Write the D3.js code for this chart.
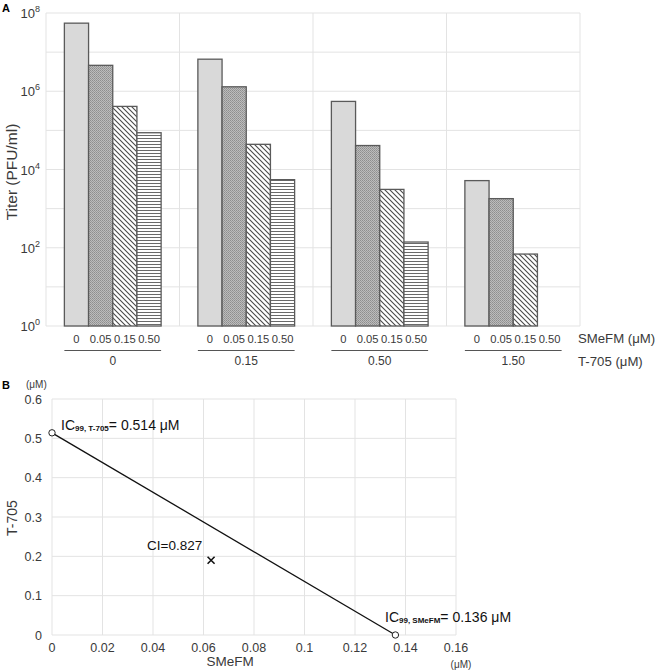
<!DOCTYPE html>
<html><head><meta charset="utf-8">
<script src="https://cdn.jsdelivr.net/npm/d3@7"></script>
<style>body{margin:0;background:#fff}svg{font-family:"Liberation Sans",Arial,sans-serif}</style>
</head><body><svg id="c" width="660" height="672"></svg>
<script>
// ---- Data ----
const t705Groups = ["0", "0.15", "0.50", "1.50"];
const smefmLevels = ["0", "0.05", "0.15", "0.50"];
const titerT0    = [5.5e7, 4.6e6, 4.1e5, 8.7e4];
const titerT015  = [6.6e6, 1.3e6, 4.4e4, 5.5e3];
const titerT050  = [5.5e5, 4.1e4, 3.1e3, 1.4e2];
const titerT150  = [5.2e3, 1.8e3, 69, null];
const yExponents = [0, 2, 4, 6, 8];
const icT705 = 0.514, icSMeFM = 0.136;
const ciPoint = {x: 0.063, y: 0.19, ci: 0.827};
const bXTicks = [0, 0.02, 0.04, 0.06, 0.08, 0.1, 0.12, 0.14, 0.16];
const bYTicks = [0, 0.1, 0.2, 0.3, 0.4, 0.5, 0.6];

const titers = [titerT0, titerT015, titerT050, titerT150];
const svg = d3.select("#c");
const grid = "#e3e3e3", txt = "#3a3a3a";

// patterns
const defs = svg.append("defs");
const pd = defs.append("pattern").attr("id","dots").attr("patternUnits","userSpaceOnUse").attr("width",2).attr("height",2);
pd.append("rect").attr("width",2).attr("height",2).attr("fill","#bcbcbc");
pd.append("rect").attr("width",1).attr("height",1).attr("fill","#8e8e8e");
pd.append("rect").attr("x",1).attr("y",1).attr("width",1).attr("height",1).attr("fill","#9a9a9a");
const pg = defs.append("pattern").attr("id","diag").attr("patternUnits","userSpaceOnUse").attr("width",5).attr("height",5);
pg.append("rect").attr("width",5).attr("height",5).attr("fill","#fff");
pg.append("path").attr("d","M0,0L5,5M-1,4L1,6M4,-1L6,1").attr("stroke","#4a4a4a").attr("stroke-width",1.1);
const ph = defs.append("pattern").attr("id","horiz").attr("patternUnits","userSpaceOnUse").attr("width",4).attr("height",3);
ph.append("rect").attr("width",4).attr("height",3).attr("fill","#fff");
ph.append("rect").attr("y",0).attr("width",4).attr("height",1).attr("fill","#6a6a6a");
const fills = ["#d9d9d9", "url(#dots)", "url(#diag)", "url(#horiz)"];

// ---- Panel A ----
const y = d3.scaleLog().domain([1, 1e8]).range([326, 13]);
const xg = d3.scaleBand().domain(t705Groups).range([46, 580]);
const xb = d3.scaleBand().domain(smefmLevels).range([0, xg.bandwidth()]).paddingOuter(0.76);

const gA = svg.append("g");
d3.range(0, 9).forEach(e => {
  gA.append("line").attr("x1", 46).attr("x2", 580).attr("y1", y(Math.pow(10, e))).attr("y2", y(Math.pow(10, e)))
    .attr("stroke", grid).attr("stroke-width", 1);
});
t705Groups.forEach(g => {
  gA.append("line").attr("x1", xg(g)).attr("x2", xg(g)).attr("y1", 13).attr("y2", 326).attr("stroke", grid);
});
gA.append("line").attr("x1", 580).attr("x2", 580).attr("y1", 13).attr("y2", 326).attr("stroke", grid);

yExponents.forEach(e => {
  const t = gA.append("text").attr("x", 40).attr("y", y(Math.pow(10, e)) + 5).attr("text-anchor", "end")
    .attr("font-size", 13).attr("fill", txt);
  t.append("tspan").text("10");
  t.append("tspan").attr("dy", -6).attr("font-size", 9).text(e);
});

t705Groups.forEach((g, gi) => {
  smefmLevels.forEach((s, si) => {
    const v = titers[gi][si];
    if (v == null) return;
    gA.append("rect").attr("x", xg(g) + xb(s)).attr("y", y(v))
      .attr("width", xb.bandwidth()).attr("height", y(1) - y(v))
      .attr("fill", fills[si]).attr("stroke", "#5a5a5a").attr("stroke-width", 1.3);
  });
  smefmLevels.forEach(s => {
    gA.append("text").attr("x", xg(g) + xb(s) + xb.bandwidth() / 2).attr("y", 342.5)
      .attr("text-anchor", "middle").attr("font-size", 11.2).attr("fill", txt).text(s);
  });
  const x0 = xg(g) + xb(smefmLevels[0]), x1 = xg(g) + xb(smefmLevels[3]) + xb.bandwidth();
  gA.append("line").attr("x1", x0).attr("x2", x1).attr("y1", 350.5).attr("y2", 350.5).attr("stroke", "#555");
  gA.append("text").attr("x", (x0 + x1) / 2).attr("y", 365).attr("text-anchor", "middle")
    .attr("font-size", 12).attr("fill", txt).text(g);
});
gA.append("text").attr("x", 578).attr("y", 343).attr("font-size", 13.2).attr("fill", txt).text("SMeFM (μM)");
gA.append("text").attr("x", 578).attr("y", 366).attr("font-size", 13.2).attr("fill", txt).text("T-705 (μM)");
gA.append("text").attr("transform", "translate(17,172) rotate(-90)").attr("text-anchor", "middle")
  .attr("font-size", 15.5).attr("fill", txt).text("Titer (PFU/ml)");
svg.append("text").attr("x", 2).attr("y", 12).attr("font-size", 11).attr("font-weight", "bold").text("A");

// ---- Panel B ----
const bx = d3.scaleLinear().domain([0, 0.16]).range([52, 456]);
const by = d3.scaleLinear().domain([0, 0.6]).range([635, 399]);
const gB = svg.append("g");
bXTicks.forEach(t => {
  gB.append("line").attr("x1", bx(t)).attr("x2", bx(t)).attr("y1", by(0.6)).attr("y2", by(0)).attr("stroke", grid);
  gB.append("text").attr("x", bx(t)).attr("y", 652).attr("text-anchor", "middle").attr("font-size", 12.5)
    .attr("fill", txt).text(d3.format("~g")(t));
});
bYTicks.forEach(t => {
  gB.append("line").attr("x1", bx(0)).attr("x2", bx(0.16)).attr("y1", by(t)).attr("y2", by(t)).attr("stroke", grid);
  gB.append("text").attr("x", 42).attr("y", by(t) + 4.5).attr("text-anchor", "end").attr("font-size", 12.5)
    .attr("fill", txt).text(t === 0 ? "0" : t.toFixed(1));
});
gB.append("line").attr("x1", bx(0)).attr("x2", bx(icSMeFM)).attr("y1", by(icT705)).attr("y2", by(0))
  .attr("stroke", "#111").attr("stroke-width", 1.3);
[[0, icT705], [icSMeFM, 0]].forEach(p => {
  gB.append("circle").attr("cx", bx(p[0])).attr("cy", by(p[1])).attr("r", 3.2)
    .attr("fill", "#fff").attr("stroke", "#222").attr("stroke-width", 1);
});
const cx = bx(ciPoint.x), cy = by(ciPoint.y);
gB.append("path").attr("d", `M${cx-3.5},${cy-3.5}L${cx+3.5},${cy+3.5}M${cx-3.5},${cy+3.5}L${cx+3.5},${cy-3.5}`)
  .attr("stroke", "#111").attr("stroke-width", 1.6);
gB.append("text").attr("x", 147).attr("y", 550).attr("font-size", 13.5).attr("fill", "#111").text("CI=" + ciPoint.ci);

function icLabel(x, yy, sub, val) {
  const t = gB.append("text").attr("x", x).attr("y", yy).attr("font-size", 14).attr("fill", "#111");
  t.append("tspan").text("IC");
  t.append("tspan").attr("font-size", 8).attr("font-weight", "bold").attr("dy", 1).text("99, " + sub);
  t.append("tspan").attr("dy", -1).text("= " + val + " μM");
}
icLabel(61, 430, "T-705", icT705);
icLabel(385, 622, "SMeFM", icSMeFM);

gB.append("text").attr("transform", "translate(17,518) rotate(-90)").attr("text-anchor", "middle")
  .attr("font-size", 14).attr("fill", txt).text("T-705");
gB.append("text").attr("x", 230).attr("y", 666).attr("text-anchor", "middle").attr("font-size", 13.5)
  .attr("fill", txt).text("SMeFM");
gB.append("text").attr("x", 26).attr("y", 388).attr("font-size", 10).attr("fill", txt).text("(μM)");
gB.append("text").attr("x", 461).attr("y", 668).attr("text-anchor", "middle").attr("font-size", 10).attr("fill", txt).text("(μM)");
svg.append("text").attr("x", 2).attr("y", 389).attr("font-size", 11).attr("font-weight", "bold").text("B");
</script></body></html>
